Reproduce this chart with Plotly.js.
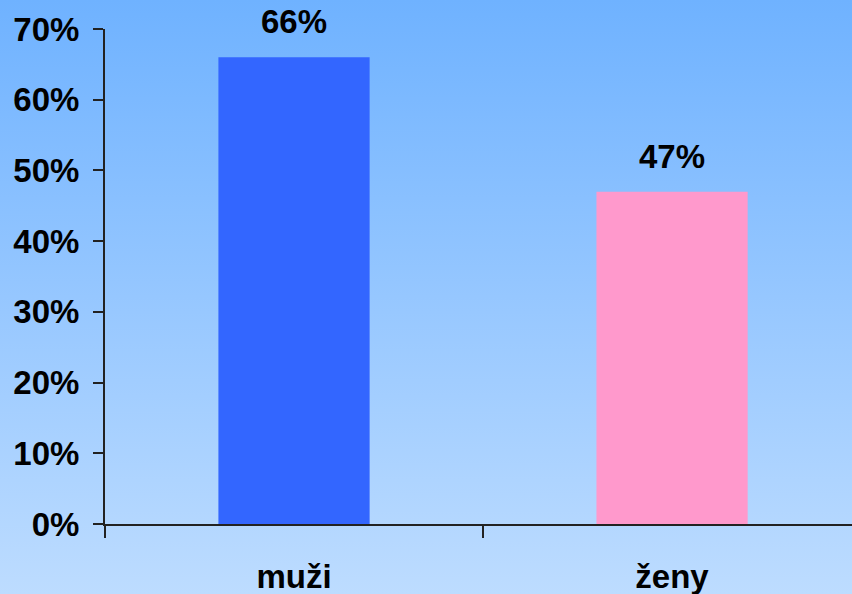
<!DOCTYPE html>
<html>
<head>
<meta charset="utf-8">
<script src="https://cdn.plot.ly/plotly-3.0.1.min.js"></script>
<style>
html,body{margin:0;padding:0;overflow:hidden;}
#chart{width:852px;height:594px;background:linear-gradient(to bottom,#6fb2ff 0%,#bddcff 100%);}
</style>
</head>
<body>
<div id="chart"></div>
<script>
var categories = ["muži", "ženy"];
var values = [66, 47];
var barColors = ["#3366ff", "#ff99cc"];
var yTickVals = [0, 10, 20, 30, 40, 50, 60, 70];
var yTickText = ["0%", "10%", "20%", "30%", "40%", "50%", "60%", "70%"];
var valueLabels = values.map(function(v){ return v + "%"; });

var fontFam = "Liberation Sans, Arial, sans-serif";
var fs = 33;

var trace = {
  type: "bar",
  x: categories,
  y: values,
  width: 0.4,
  marker: {color: barColors, line: {width: 0}},
  hoverinfo: "none"
};

var annotations = categories.map(function(c, i){
  return {
    x: c, y: values[i], text: "<b>" + valueLabels[i] + "</b>",
    showarrow: false, yanchor: "bottom", yshift: 15,
    font: {family: fontFam, size: fs, color: "#000"}
  };
});

var layout = {
  width: 852, height: 594,
  margin: {l: 105, r: 0, t: 29, b: 70},
  paper_bgcolor: "rgba(0,0,0,0)",
  plot_bgcolor: "rgba(0,0,0,0)",
  showlegend: false,
  font: {family: fontFam, size: fs, color: "#000"},
  xaxis: {
    type: "category",
    range: [-0.5, 1.476],
    showline: true, linecolor: "#222", linewidth: 2,
    ticks: "outside", tickson: "boundaries", ticklen: 12, tickwidth: 2, tickcolor: "#222",
    showgrid: false, zeroline: false,
    tickfont: {family: fontFam, size: fs, color: "#000", weight: "bold"},
    ticklabelstandoff: 22
  },
  yaxis: {
    range: [0, 70],
    tickvals: yTickVals, ticktext: yTickText,
    showline: true, linecolor: "#222", linewidth: 2,
    ticks: "outside", ticklen: 10, tickwidth: 2, tickcolor: "#222",
    showgrid: false, zeroline: false,
    tickfont: {family: fontFam, size: fs, color: "#000", weight: "bold"},
    ticklabelstandoff: 7
  },
  annotations: annotations
};

Plotly.newPlot("chart", [trace], layout, {staticPlot: true, displayModeBar: false});
</script>
</body>
</html>
